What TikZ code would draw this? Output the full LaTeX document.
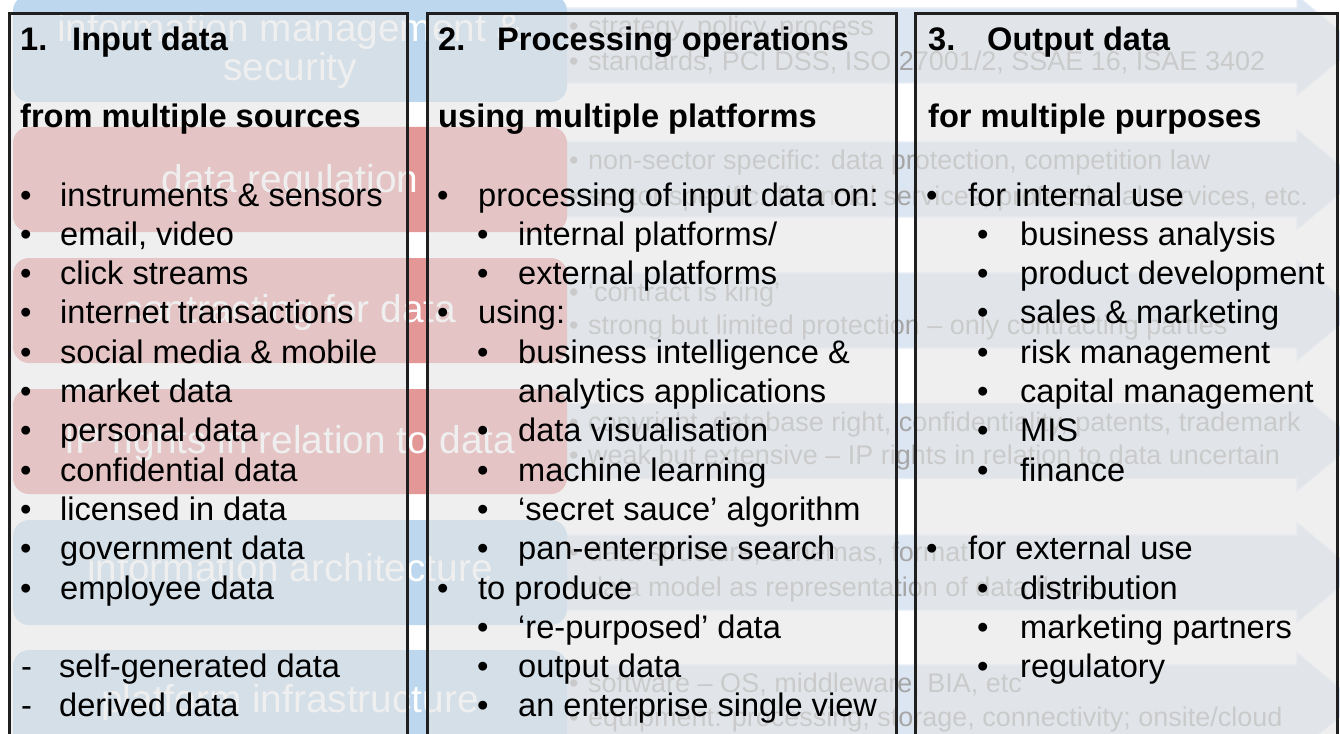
\documentclass[tikz,border=0pt]{standalone}
\usepackage{fontspec}
\setmainfont{Liberation Sans}
\definecolor{lblred}{HTML}{E39797}
\definecolor{lblblue}{HTML}{BDD7EE}
\definecolor{arrfill}{HTML}{DCE6F2}
\definecolor{arredge}{HTML}{E8EEF7}
\definecolor{arrtext}{HTML}{A6A6A6}
\definecolor{panelfill}{HTML}{E5E5E5}
\newcommand\mainfs{\fontsize{32.6}{39.3}\selectfont}
\newcommand\arrfs{\fontsize{27}{33}\selectfont}
\newcommand\lblfs{\fontsize{38.8}{39}\selectfont}
\newcommand\bul[2]{\makebox[#1][l]{\textbullet}#2}
\newcommand\dsh[2]{\makebox[#1][l]{-}#2}
\newcommand\numtitle[3]{\makebox[#1][l]{#2}#3}
\begin{document}
\begin{tikzpicture}[x=1pt,y=-1pt,
  txt/.style={anchor=base west, inner sep=0pt, font=\mainfs, text=black},
  arrtxt/.style={anchor=base west, inner sep=0pt, font=\arrfs, text=arrtext},
  lbltxt/.style={anchor=base, inner sep=0pt, font=\lblfs, text=white},
  lblbox/.style={rounded corners=16pt},
  arrshape/.style={fill=arrfill, draw=arredge, line width=1.2pt},
  panel/.style={draw=black!88, line width=3pt, fill=panelfill, fill opacity=0.58}]
\useasboundingbox (0,0) rectangle (1340,733);
\clip (0,0) rectangle (1340,733);
\fill[white] (0,0) rectangle (1340,733);
% background arrows
\foreach \c in {45.5,179.5,310.5,441,572.5,702.5}{
  \path[arrshape] (540,{\c-37.5}) -- (1297,{\c-37.5}) -- (1297,{\c-50}) -- (1357,\c)
     -- (1297,{\c+50}) -- (1297,{\c+37.5}) -- (540,{\c+37.5}) -- cycle;
}
% label boxes
\fill[lblblue, lblbox] (13,-5) rectangle (567,102);
\fill[lblred, lblbox] (13,127) rectangle (567,232);
\fill[lblred, lblbox] (13,258) rectangle (567,363);
\fill[lblred, lblbox] (13,389) rectangle (567,494);
\fill[lblblue, lblbox] (13,520) rectangle (567,625);
\fill[lblblue, lblbox] (13,650) rectangle (567,755);
% label texts
\node[lbltxt] (l1a) at (290,42) {information management \&};
\node[lbltxt] (l1b) at (290,81) {security};
\node[lbltxt] (l2) at (290,192) {data regulation};
\node[lbltxt] (l3) at (290,322) {contracting for data};
\node[lbltxt] (l4) at (290,453) {IP rights in relation to data};
\node[lbltxt] (l5) at (290,581) {information architecture};
\node[lbltxt] (l6) at (290,712) {platform infrastructure};
% arrow texts
\node[arrtxt] (a1a) at (569,35.5) {\bul{19pt}{strategy, policy, process}};
\node[arrtxt] (a1b) at (569,70.5) {\bul{19pt}{standards, PCI DSS, ISO 27001/2, SSAE 16, ISAE 3402}};
\node[arrtxt] (a2a) at (569,169.5) {\bul{19pt}{non-sector specific: data protection, competition law}};
\node[arrtxt] (a2b) at (569,205) {\bul{19pt}{sector specific: financial services, professional services, etc.}};
\node[arrtxt] (a3a) at (569,301) {\bul{19pt}{‘contract is king’}};
\node[arrtxt] (a3b) at (569,334.5) {\bul{19pt}{strong but limited protection – only contracting parties}};
\node[arrtxt] (a4a) at (569,431) {\bul{19pt}{copyright, database right, confidentiality, patents, trademark}};
\node[arrtxt] (a4b) at (569,464.5) {\bul{19pt}{weak but extensive – IP rights in relation to data uncertain}};
\node[arrtxt] (a5a) at (569,561.5) {\bul{19pt}{data structure, schemas, format}};
\node[arrtxt] (a5b) at (569,596.5) {\bul{19pt}{data model as representation of data flows}};
\node[arrtxt] (a6a) at (569,692.5) {\bul{19pt}{software – OS, middleware, BIA, etc}};
\node[arrtxt] (a6b) at (569,726) {\bul{19pt}{equipment: processing, storage, connectivity; onsite/cloud}};
% panels
\path[panel] (9.5,14) rectangle (407,760);
\path[panel] (427,14) rectangle (896,760);
\path[panel] (915,14) rectangle (1337,760);
% column 1
\node[txt] (h1) at (20,50.5) {\bfseries\numtitle{52pt}{1.}{Input data}};
\node[txt] (s1) at (20,128) {\bfseries from multiple sources};
\node[txt] (c1a) at (20,206) {\bul{40pt}{instruments \& sensors}};
\node[txt] (c1b) at (20,245.3) {\bul{40pt}{email, video}};
\node[txt] (c1c) at (20,284.6) {\bul{40pt}{click streams}};
\node[txt] (c1d) at (20,323.9) {\bul{40pt}{internet transactions}};
\node[txt] (c1e) at (20,363.2) {\bul{40pt}{social media \& mobile}};
\node[txt] (c1f) at (20,402.5) {\bul{40pt}{market data}};
\node[txt] (c1g) at (20,441.8) {\bul{40pt}{personal data}};
\node[txt] (c1h) at (20,481.1) {\bul{40pt}{confidential data}};
\node[txt] (c1i) at (20,520.4) {\bul{40pt}{licensed in data}};
\node[txt] (c1j) at (20,559.7) {\bul{40pt}{government data}};
\node[txt] (c1k) at (20,599) {\bul{40pt}{employee data}};
\node[txt] (c1l) at (21,677.6) {\dsh{38pt}{self-generated data}};
\node[txt] (c1m) at (21,716.9) {\dsh{38pt}{derived data}};
% column 2
\node[txt] (h2) at (438,50.5) {\bfseries\numtitle{59pt}{2.}{Processing operations}};
\node[txt] (s2) at (438,128) {\bfseries using multiple platforms};
\node[txt] (c2a) at (437,206) {\bul{41pt}{processing of input data on:}};
\node[txt] (c2b) at (477,245.3) {\bul{41pt}{internal platforms/}};
\node[txt] (c2c) at (477,284.6) {\bul{41pt}{external platforms}};
\node[txt] (c2d) at (437,323.9) {\bul{41pt}{using:}};
\node[txt] (c2e) at (477,363.2) {\bul{41pt}{business intelligence \&}};
\node[txt] (c2f) at (518,402.5) {analytics applications};
\node[txt] (c2g) at (477,441.8) {\bul{41pt}{data visualisation}};
\node[txt] (c2h) at (477,481.1) {\bul{41pt}{machine learning}};
\node[txt] (c2i) at (477,520.4) {\bul{41pt}{‘secret sauce’ algorithm}};
\node[txt] (c2j) at (477,559.7) {\bul{41pt}{pan-enterprise search}};
\node[txt] (c2k) at (437,599) {\bul{41pt}{to produce}};
\node[txt] (c2l) at (477,638.3) {\bul{41pt}{‘re-purposed’ data}};
\node[txt] (c2m) at (477,677.6) {\bul{41pt}{output data}};
\node[txt] (c2n) at (477,716.9) {\bul{41pt}{an enterprise single view}};
% column 3
\node[txt] (h3) at (928,50.5) {\bfseries\numtitle{59pt}{3.}{Output data}};
\node[txt] (s3) at (928,128) {\bfseries for multiple purposes};
\node[txt] (c3a) at (926,206) {\bul{42pt}{for internal use}};
\node[txt] (c3b) at (977,245.3) {\bul{43pt}{business analysis}};
\node[txt] (c3c) at (977,284.6) {\bul{43pt}{product development}};
\node[txt] (c3d) at (977,323.9) {\bul{43pt}{sales \& marketing}};
\node[txt] (c3e) at (977,363.2) {\bul{43pt}{risk management}};
\node[txt] (c3f) at (977,402.5) {\bul{43pt}{capital management}};
\node[txt] (c3g) at (977,441.8) {\bul{43pt}{MIS}};
\node[txt] (c3h) at (977,481.1) {\bul{43pt}{finance}};
\node[txt] (c3i) at (926,559.7) {\bul{42pt}{for external use}};
\node[txt] (c3j) at (977,599) {\bul{43pt}{distribution}};
\node[txt] (c3k) at (977,638.3) {\bul{43pt}{marketing partners}};
\node[txt] (c3l) at (977,677.6) {\bul{43pt}{regulatory}};
\end{tikzpicture}
\end{document}
